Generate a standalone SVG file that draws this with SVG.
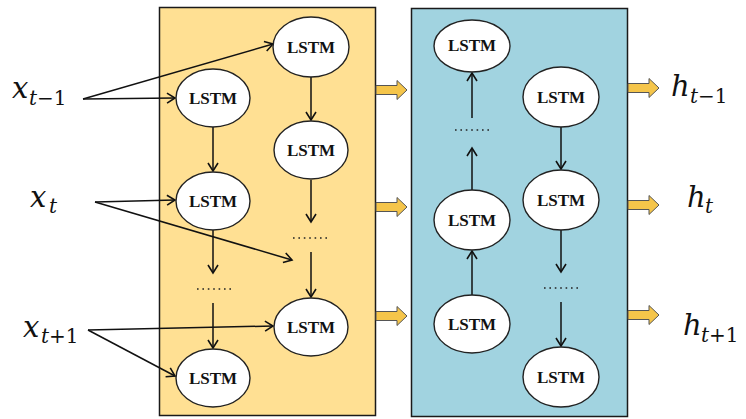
<svg xmlns="http://www.w3.org/2000/svg" xmlns:xlink="http://www.w3.org/1999/xlink" width="746" height="419" viewBox="0 0 746 419">
<style>
.box{stroke:#1a1a1a;stroke-width:1.5}
.node ellipse{fill:#fff;stroke:#222;stroke-width:1.4}
.node text{font-family:"Liberation Serif",serif;font-weight:bold;font-size:17px;text-anchor:middle;fill:#111}
.edge{stroke:#111;stroke-width:1.5;fill:none;marker-end:url(#ah)}
.dots{stroke:#222;stroke-width:1.6;stroke-dasharray:1.6 3.8;fill:none}
.blk{fill:#F5C54A;stroke:#555;stroke-width:1}
.m{font-family:"DejaVu Serif",serif;font-style:italic;font-size:29px;fill:#111}
.s{font-size:20px}
.n{font-style:normal}
</style>
<defs>
<marker id="ah" markerWidth="13" markerHeight="13" refX="11" refY="6.5" orient="auto" markerUnits="userSpaceOnUse">
<path d="M3,1.5 L11,6.5 L3,11.5" fill="none" stroke="#111" stroke-width="1.6"/>
</marker>
<path id="ba" d="M0,-4.5 H21 V-9.5 L31,0 L21,9.5 V4.5 H0 Z"/>
</defs>
<rect id="box1" class="box" x="159.5" y="7.5" width="216" height="408" fill="#FFE093"/>
<rect id="box2" class="box" x="411.5" y="8.5" width="216" height="408" fill="#A1D3E0"/>
<g id="connectors">
<line class="edge" x1="83" y1="99" x2="175" y2="98"/>
<line class="edge" x1="83" y1="99" x2="273" y2="44"/>
<line class="edge" x1="95" y1="202" x2="175" y2="200"/>
<line class="edge" x1="95" y1="202" x2="292" y2="260"/>
<line class="edge" x1="88" y1="330" x2="273" y2="326"/>
<line class="edge" x1="88" y1="330" x2="175" y2="376"/>
<line class="edge" x1="213" y1="127" x2="213" y2="171"/>
<line class="edge" x1="213" y1="230" x2="213" y2="273"/>
<line class="edge" x1="213" y1="303" x2="213" y2="348"/>
<line class="edge" x1="311" y1="77" x2="311" y2="120"/>
<line class="edge" x1="311" y1="180" x2="311" y2="222"/>
<line class="edge" x1="311" y1="252" x2="311" y2="297"/>
<line class="edge" x1="472" y1="295" x2="472" y2="251"/>
<line class="edge" x1="472" y1="190" x2="472" y2="148"/>
<line class="edge" x1="472" y1="118" x2="472" y2="73"/>
<line class="edge" x1="561" y1="127" x2="561" y2="169"/>
<line class="edge" x1="561" y1="230" x2="561" y2="272"/>
<line class="edge" x1="561" y1="302" x2="561" y2="346"/>
<line class="dots" x1="197" y1="289" x2="231" y2="289"/>
<line class="dots" x1="293" y1="238" x2="329" y2="238"/>
<line class="dots" x1="455" y1="130" x2="489" y2="130"/>
<line class="dots" x1="544" y1="288" x2="579" y2="288"/>
<use class="blk" xlink:href="#ba" transform="translate(376,90)"/>
<use class="blk" xlink:href="#ba" transform="translate(376,207)"/>
<use class="blk" xlink:href="#ba" transform="translate(376,316)"/>
<use class="blk" xlink:href="#ba" transform="translate(628,88)"/>
<use class="blk" xlink:href="#ba" transform="translate(628,205)"/>
<use class="blk" xlink:href="#ba" transform="translate(628,315)"/>
</g>
<g id="a1" class="node"><ellipse cx="213" cy="98" rx="37" ry="29"/><text x="213" y="104">LSTM</text></g>
<g id="a2" class="node"><ellipse cx="213" cy="201" rx="37" ry="29"/><text x="213" y="207">LSTM</text></g>
<g id="a3" class="node"><ellipse cx="213" cy="378" rx="37" ry="29"/><text x="213" y="384">LSTM</text></g>
<g id="b1" class="node"><ellipse cx="311" cy="47" rx="38" ry="30"/><text x="311" y="53">LSTM</text></g>
<g id="b2" class="node"><ellipse cx="311" cy="150" rx="37" ry="29"/><text x="311" y="156">LSTM</text></g>
<g id="b3" class="node"><ellipse cx="311" cy="327" rx="37" ry="29"/><text x="311" y="333">LSTM</text></g>
<g id="c1" class="node"><ellipse cx="472" cy="46" rx="38" ry="26"/><text x="472" y="51">LSTM</text></g>
<g id="c2" class="node"><ellipse cx="472" cy="220" rx="38" ry="30"/><text x="472" y="226">LSTM</text></g>
<g id="c3" class="node"><ellipse cx="472" cy="324" rx="38" ry="29"/><text x="472" y="330">LSTM</text></g>
<g id="d1" class="node"><ellipse cx="561" cy="97" rx="38" ry="30"/><text x="561" y="103">LSTM</text></g>
<g id="d2" class="node"><ellipse cx="561" cy="200" rx="38" ry="30"/><text x="561" y="206">LSTM</text></g>
<g id="d3" class="node"><ellipse cx="561" cy="377" rx="38" ry="30"/><text x="561" y="383">LSTM</text></g>
<g id="labels">
<text class="m" x="12" y="98">x<tspan class="s" x="29" y="105">t</tspan><tspan class="s n">−1</tspan></text>
<text class="m" x="30" y="207">x<tspan class="s" x="49" y="213">t</tspan></text>
<text class="m" x="23" y="337">x<tspan class="s" x="41" y="343">t</tspan><tspan class="s n">+1</tspan></text>
<text class="m" x="671" y="96">h<tspan class="s" x="690" y="103">t</tspan><tspan class="s n">−1</tspan></text>
<text class="m" x="687" y="207">h<tspan class="s" x="705" y="213">t</tspan></text>
<text class="m" x="683" y="335">h<tspan class="s" x="701" y="342">t</tspan><tspan class="s n">+1</tspan></text>
</g>
</svg>
